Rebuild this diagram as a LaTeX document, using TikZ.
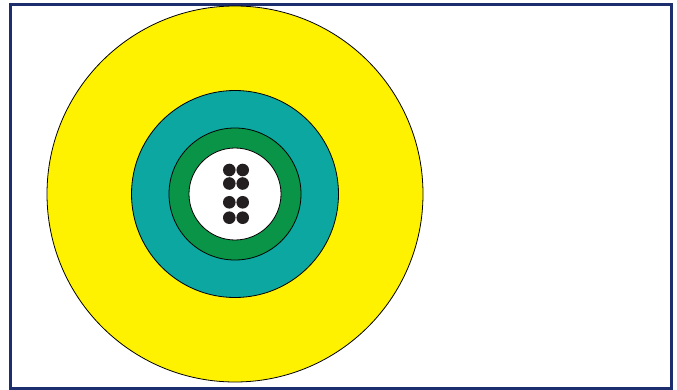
\documentclass[tikz,border=0pt]{standalone}
\definecolor{cyell}{HTML}{FFF200}
\definecolor{cteal}{HTML}{0BA7A0}
\definecolor{cgreen}{HTML}{0A9447}
\definecolor{cnavy}{HTML}{1C2E6E}
\definecolor{cdot}{HTML}{231F20}
\begin{document}
\begin{tikzpicture}[x=1pt,y=-1pt,
  ring/.style={draw=black,line width=0.8pt},
  fiberdot/.style={circle,fill=cdot,inner sep=0pt,minimum size=12.6pt}]
\useasboundingbox (0,0) rectangle (677,390);
\fill[white] (0,0) rectangle (677,390);
\draw[cnavy,line width=3pt] (10.5,4.5) rectangle (671.5,388.5);
\coordinate (c) at (235,194);
\draw[ring,fill=cyell] (c) circle (188);
\draw[ring,fill=cteal] (c) circle (103.5);
\draw[ring,fill=cgreen] (c) circle (66);
\draw[ring,fill=white] (c) circle (46);
\node[fiberdot] (d1) at (229.3,170) {};
\node[fiberdot] (d2) at (242.7,170) {};
\node[fiberdot] (d3) at (229.3,183.5) {};
\node[fiberdot] (d4) at (242.7,183.5) {};
\node[fiberdot] (d5) at (229.3,202.3) {};
\node[fiberdot] (d6) at (242.7,202.3) {};
\node[fiberdot] (d7) at (229.3,217.7) {};
\node[fiberdot] (d8) at (242.7,217.7) {};
\end{tikzpicture}
\end{document}
